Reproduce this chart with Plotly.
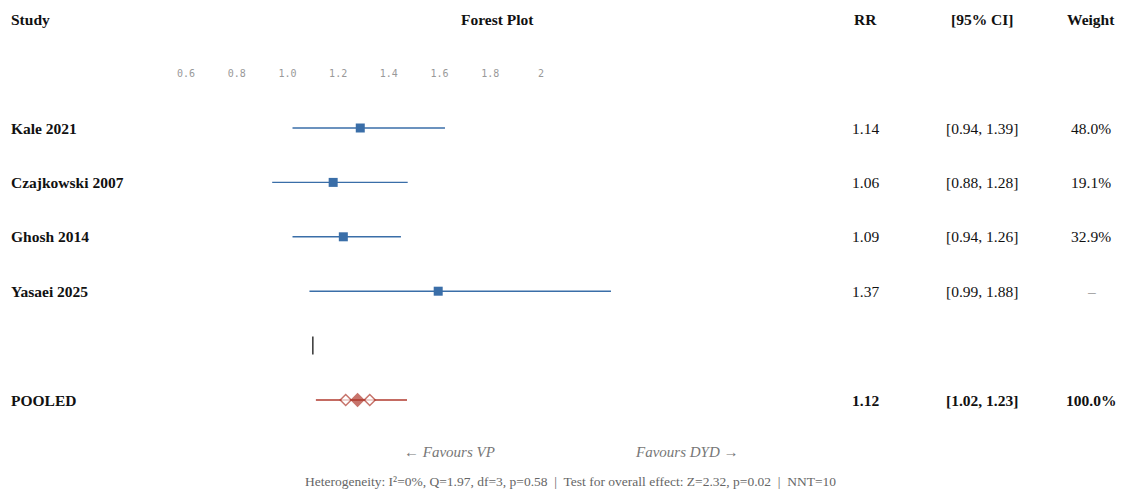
import plotly.graph_objects as go

# ---------------- data ----------------
studies = ["Kale 2021", "Czajkowski 2007", "Ghosh 2014", "Yasaei 2025"]
rr = [1.14, 1.06, 1.09, 1.37]
ci_low = [0.94, 0.88, 0.94, 0.99]
ci_high = [1.39, 1.28, 1.26, 1.88]
weights = ["48.0%", "19.1%", "32.9%", "–"]

pooled_label = "POOLED"
pooled_rr = 1.12
pooled_low = 1.02
pooled_high = 1.23
pooled_weight = "100.0%"
# positions of the pooled marks as drawn in the picture
pooled_line_x = [1.009, 1.278]
pooled_diamond_x = [1.097, 1.132, 1.168]

null_value = 1.0
tick_vals = [0.6, 0.8, 1.0, 1.2, 1.4, 1.6, 1.8, 2.0]
tick_text = ["0.6", "0.8", "1.0", "1.2", "1.4", "1.6", "1.8", "2"]

headers = ["Study", "Forest Plot", "RR", "[95% CI]", "Weight"]
favours_left = "← Favours VP"
favours_right = "Favours DYD →"
footer = ("Heterogeneity: I²=0%, Q=1.97, df=3, p=0.58  |  "
          "Test for overall effect: Z=2.32, p=0.02  |  NNT=10")

# ---------------- styling ----------------
W, H = 1121, 490
BLUE = "#3a6ea8"
RED = "#b03a2e"
SERIF = "Liberation Serif, Times New Roman, serif"
MONO = "DejaVu Sans Mono, monospace"

row_y = list(range(len(studies)))
null_row = len(studies)
pooled_row = len(studies) + 1

fig = go.Figure()

# CI lines for studies
for i in range(len(studies)):
    fig.add_trace(go.Scatter(
        x=[ci_low[i], ci_high[i]], y=[row_y[i], row_y[i]],
        mode="lines", line=dict(color=BLUE, width=1.4),
        showlegend=False, hoverinfo="skip"))
# point estimates
fig.add_trace(go.Scatter(
    x=rr, y=row_y, mode="markers",
    marker=dict(symbol="square", size=9, color=BLUE),
    showlegend=False))

# null line
fig.add_trace(go.Scatter(
    x=[null_value, null_value], y=[null_row - 0.165, null_row + 0.165],
    mode="lines", line=dict(color="#333333", width=1.5),
    showlegend=False, hoverinfo="skip"))

# pooled
fig.add_trace(go.Scatter(
    x=pooled_line_x, y=[pooled_row, pooled_row], mode="lines",
    line=dict(color=RED, width=1.4), showlegend=False, hoverinfo="skip"))
fig.add_trace(go.Scatter(
    x=pooled_diamond_x, y=[pooled_row] * 3, mode="markers",
    marker=dict(symbol="diamond", size=[8.5, 9.5, 8.5],
                color=["white", RED, "white"],
                line=dict(color=RED, width=1.5)),
    showlegend=False))

# tick-label axis (xaxis2)
fig.add_trace(go.Scatter(x=[tick_vals[0]], y=[0], xaxis="x2", mode="markers",
                         marker=dict(opacity=0), showlegend=False,
                         hoverinfo="skip"))

# ---------------- text columns ----------------
ann = []
def px_x(p):
    return p / W
def px_y(p):
    return 1 - p / H

body_font = dict(family=SERIF, size=15.5, color="#111111")
bold_font = dict(family=SERIF, size=15.5, color="#111111", weight="bold")
LEFT_X = 8.5

hdr_x = [LEFT_X, 497.5, 865, 982, 1091]
hdr_anchor = ["left", "center", "center", "center", "center"]
for t, xp, a in zip(headers, hdr_x, hdr_anchor):
    ann.append(dict(text=t, x=px_x(xp), y=px_y(19), xref="paper", yref="paper",
                    xanchor=a, yanchor="middle", showarrow=False, font=bold_font))

for i, s in enumerate(studies):
    ann.append(dict(text=s, x=px_x(LEFT_X), y=row_y[i], xref="paper", yref="y",
                    xanchor="left", yanchor="middle", showarrow=False, font=bold_font))
    ann.append(dict(text=f"{rr[i]:.2f}", x=px_x(865), y=row_y[i], xref="paper", yref="y",
                    xanchor="center", yanchor="middle", showarrow=False, font=body_font))
    ann.append(dict(text=f"[{ci_low[i]:.2f}, {ci_high[i]:.2f}]", x=px_x(982), y=row_y[i],
                    xref="paper", yref="y", xanchor="center", yanchor="middle",
                    showarrow=False, font=body_font))
    wf = dict(body_font)
    if weights[i] == "–":
        wf["color"] = "#666666"
    ann.append(dict(text=weights[i], x=px_x(1091), y=row_y[i], xref="paper", yref="y",
                    xanchor="center", yanchor="middle", showarrow=False, font=wf))

ann.append(dict(text=pooled_label, x=px_x(LEFT_X), y=pooled_row, xref="paper", yref="y",
                xanchor="left", yanchor="middle", showarrow=False, font=bold_font))
ann.append(dict(text=f"{pooled_rr:.2f}", x=px_x(865), y=pooled_row, xref="paper", yref="y",
                xanchor="center", yanchor="middle", showarrow=False, font=bold_font))
ann.append(dict(text=f"[{pooled_low:.2f}, {pooled_high:.2f}]", x=px_x(982), y=pooled_row,
                xref="paper", yref="y", xanchor="center", yanchor="middle",
                showarrow=False, font=bold_font))
ann.append(dict(text=pooled_weight, x=px_x(1091), y=pooled_row, xref="paper", yref="y",
                xanchor="center", yanchor="middle", showarrow=False, font=bold_font))

fav_font = dict(family=SERIF, size=15, color="#777777", style="italic")
ann.append(dict(text=favours_left, x=px_x(449), y=px_y(452), xref="paper", yref="paper",
                xanchor="center", yanchor="middle", showarrow=False, font=fav_font))
ann.append(dict(text=favours_right, x=px_x(687), y=px_y(452), xref="paper", yref="paper",
                xanchor="center", yanchor="middle", showarrow=False, font=fav_font))
ann.append(dict(text=footer, x=px_x(570), y=px_y(481), xref="paper", yref="paper",
                xanchor="center", yanchor="middle", showarrow=False,
                font=dict(family=SERIF, size=13.5, color="#666666")))

# ---------------- axes ----------------
# data axis: px = 312.84 + 338.8 * (v - 1)
x0 = 1 - 312.84 / 338.8
x1 = 1 + (W - 312.84) / 338.8
# tick axis: px = 186 + 253.57 * (v - 0.6)
t0 = 0.6 - 186 / 253.57
t1 = 0.6 + (W - 186) / 253.57
# rows: px = 128 + 54.4 * r
y_top = -128 / 54.4
y_bot = (H - 128) / 54.4

fig.update_layout(
    width=W, height=H,
    margin=dict(l=0, r=0, t=0, b=0),
    paper_bgcolor="white", plot_bgcolor="white",
    xaxis=dict(range=[x0, x1], visible=False, showgrid=False, zeroline=False),
    xaxis2=dict(range=[t0, t1], overlaying="x", anchor="free", position=px_y(66),
                side="bottom", tickvals=tick_vals, ticktext=tick_text,
                showgrid=False, zeroline=False, showline=False, ticks="",
                tickfont=dict(family=MONO, size=10, color="#999999")),
    yaxis=dict(range=[y_bot, y_top], visible=False, showgrid=False, zeroline=False),
    annotations=ann,
    showlegend=False,
)

fig.write_html("out.html", config={"displayModeBar": False})

# remove the browser's default body margin so the figure fills the window
with open("out.html", "r", encoding="utf-8") as f:
    html = f.read()
html = html.replace("<head>", "<head><style>html,body{margin:0;padding:0;overflow:hidden;}</style>", 1)
with open("out.html", "w", encoding="utf-8") as f:
    f.write(html)
